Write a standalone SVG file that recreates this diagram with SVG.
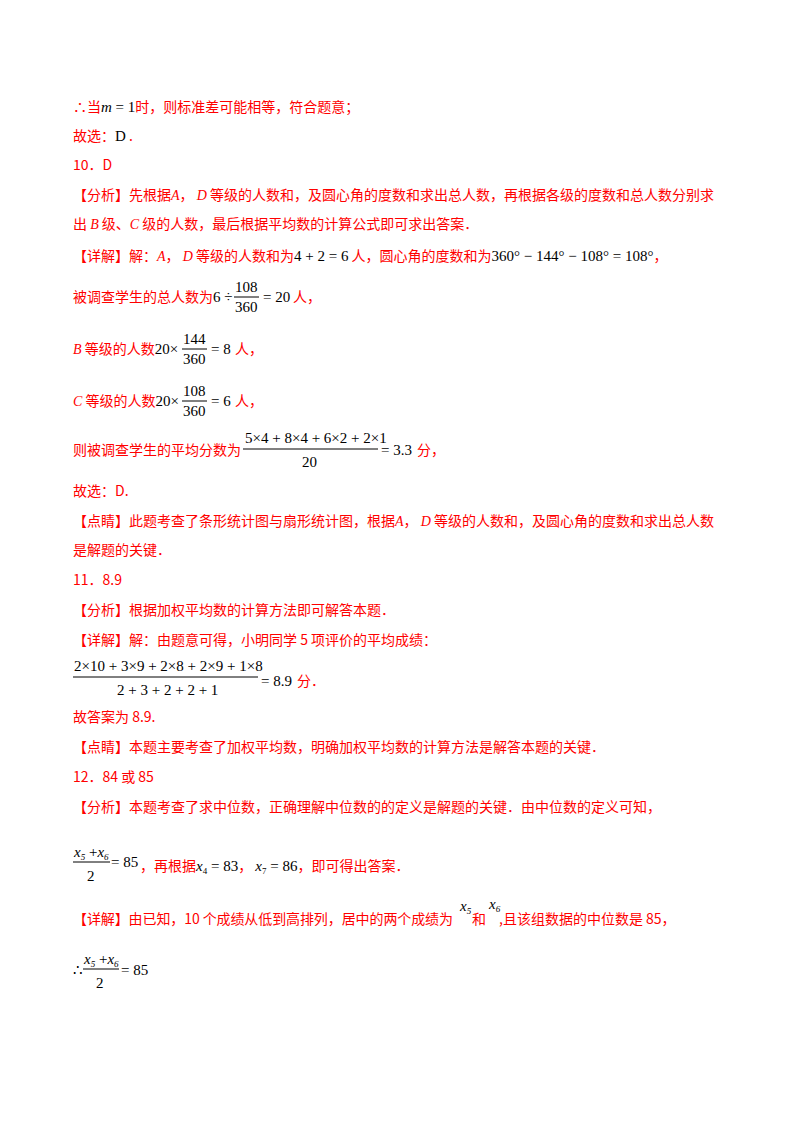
<svg xmlns="http://www.w3.org/2000/svg" width="800" height="1132" viewBox="0 0 800 1132">
<style>
text{font-family:"Noto Sans CJK SC","Liberation Sans",sans-serif;font-size:14px;fill:#ff0000}
.m{font-family:"Liberation Serif",serif;fill:#000;font-size:15px}
.i{font-style:italic}
.s{font-size:9px}
.b{fill:#ff0000;font-family:"Liberation Serif",serif;font-style:italic}
line{stroke:#000;stroke-width:1}
</style>
<rect width="800" height="1132" fill="#fff"/>
<text x="73" y="112">∴当<tspan class="m i">m</tspan><tspan class="m"> = 1</tspan>时，则标准差可能相等，符合题意；</text>
<text x="73" y="141">故选：<tspan class="m">D</tspan> .</text>
<text x="73" y="170">10．D</text>
<text x="73" y="200">【分析】先根据<tspan class="b">A</tspan>，  <tspan class="b">D</tspan> 等级的人数和，及圆心角的度数和求出总人数，再根据各级的度数和总人数分别求</text>
<text x="73" y="229">出 <tspan class="b">B</tspan>  级、<tspan class="b">C</tspan>  级的人数，最后根据平均数的计算公式即可求出答案．</text>
<text x="73" y="261">【详解】解：<tspan class="b">A</tspan>，  <tspan class="b">D</tspan> 等级的人数和为<tspan class="m">4 + 2 = 6</tspan> 人，圆心角的度数和为<tspan class="m">360° − 144° − 108° = 108°</tspan>，</text>
<text x="73" y="302">被调查学生的总人数为<tspan class="m">6 ÷</tspan></text>
<text class="m" x="235" y="292">108</text><line x1="234" y1="297" x2="259" y2="297"/><text class="m" x="235" y="312">360</text>
<text class="m" x="263" y="302">= 20</text><text x="293" y="302">人，</text>
<text x="73" y="354"><tspan class="b">B</tspan> 等级的人数<tspan class="m">20×</tspan></text>
<text class="m" x="183" y="344">144</text><line x1="182" y1="349" x2="207" y2="349"/><text class="m" x="183" y="364">360</text>
<text class="m" x="211" y="354">= 8</text><text x="235" y="354">人，</text>
<text x="73" y="406"><tspan class="b">C</tspan> 等级的人数<tspan class="m">20×</tspan></text>
<text class="m" x="183" y="396">108</text><line x1="182" y1="401" x2="207" y2="401"/><text class="m" x="183" y="416">360</text>
<text class="m" x="211" y="406">= 6</text><text x="235" y="406">人，</text>
<text x="73" y="455">则被调查学生的平均分数为</text>
<text class="m" x="245" y="443">5×4 + 8×4 + 6×2 + 2×1</text><line x1="243" y1="449" x2="378" y2="449"/><text class="m" x="302" y="467">20</text>
<text class="m" x="381" y="455">= 3.3</text><text x="417" y="455">分，</text>
<text x="73" y="496">故选：D.</text>
<text x="73" y="526">【点睛】此题考查了条形统计图与扇形统计图，根据<tspan class="b">A</tspan>，  <tspan class="b">D</tspan> 等级的人数和，及圆心角的度数和求出总人数</text>
<text x="73" y="555">是解题的关键．</text>
<text x="73" y="585">11．8.9</text>
<text x="73" y="615">【分析】根据加权平均数的计算方法即可解答本题．</text>
<text x="73" y="645">【详解】解：由题意可得，小明同学 5 项评价的平均成绩：</text>
<text class="m" x="74" y="671">2×10 + 3×9 + 2×8 + 2×9 + 1×8</text><line x1="73" y1="677" x2="258" y2="677"/><text class="m" x="117" y="695">2 + 3 + 2 + 2 + 1</text>
<text class="m" x="261" y="686">= 8.9</text><text x="297" y="686">分．</text>
<text x="73" y="722">故答案为 8.9.</text>
<text x="73" y="752">【点睛】本题主要考查了加权平均数，明确加权平均数的计算方法是解答本题的关键．</text>
<text x="73" y="782">12．84 或 85</text>
<text x="73" y="812">【分析】本题考查了求中位数，正确理解中位数的的定义是解题的关键．由中位数的定义可知，</text>
<text class="m i" x="74" y="857">x<tspan class="s" dy="3">5</tspan><tspan dy="-3" font-style="normal"> +</tspan>x<tspan class="s" dy="3">6</tspan></text><line x1="73" y1="862" x2="110" y2="862"/><text class="m" x="87" y="881">2</text>
<text class="m" x="111" y="867">= 85</text>
<text x="140" y="871">，再根据<tspan class="m i">x</tspan><tspan class="m s" dy="3">4</tspan><tspan class="m" dy="-3"> = 83</tspan>，  <tspan class="m i">x</tspan><tspan class="m s" dy="3">7</tspan><tspan class="m" dy="-3"> = 86</tspan>，即可得出答案．</text>
<text x="73" y="924" textLength="380" lengthAdjust="spacing">【详解】由已知，10 个成绩从低到高排列，居中的两个成绩为</text>
<text class="m i" x="460" y="911">x<tspan class="s" dy="3">5</tspan></text>
<text x="472" y="924">和</text>
<text class="m i" x="489" y="909">x<tspan class="s" dy="3">6</tspan></text>
<text x="499" y="924">,且该组数据的中位数是 85，</text>
<text class="m" x="73" y="975">∴</text>
<text class="m i" x="84" y="964">x<tspan class="s" dy="3">5</tspan><tspan dy="-3" font-style="normal"> +</tspan>x<tspan class="s" dy="3">6</tspan></text><line x1="83" y1="969" x2="119" y2="969"/><text class="m" x="96" y="988">2</text>
<text class="m" x="121" y="975">= 85</text>
</svg>
